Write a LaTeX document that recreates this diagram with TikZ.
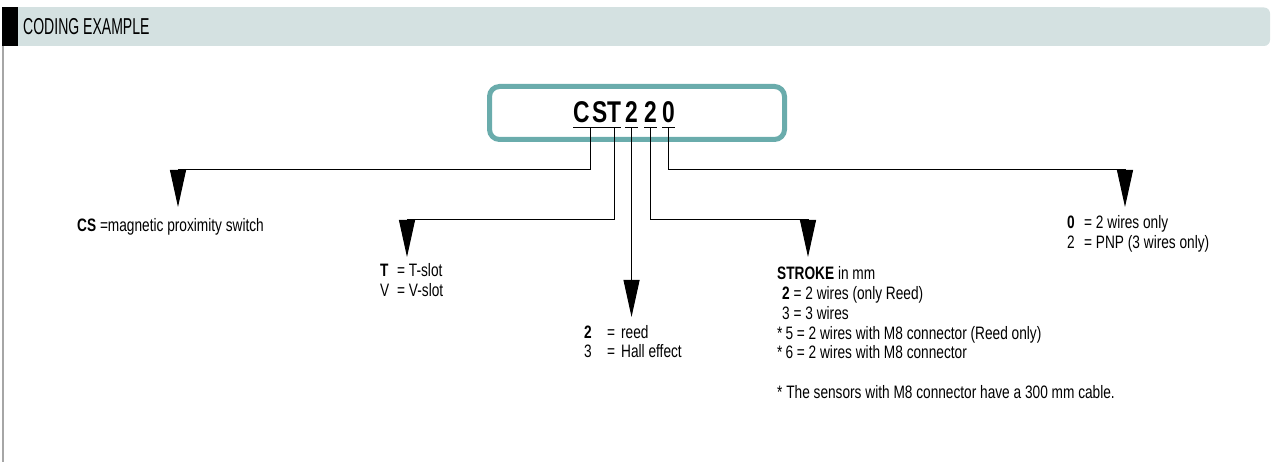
\documentclass[tikz,border=0pt]{standalone}
\usepackage{fontspec}
\setmainfont{Liberation Sans}[FakeStretch=0.76]
\newfontfamily\headfont{Liberation Sans}[FakeStretch=0.61]
\newfontfamily\codefont{Liberation Sans}[FakeStretch=0.76]
\usetikzlibrary{arrows.meta}
\definecolor{headbg}{HTML}{D4E1E1}
\definecolor{boxteal}{HTML}{6AACAC}
\newcommand{\codelist}[1]{\begin{tabular}[t]{@{}l@{}}#1\end{tabular}}
\tikzset{
  conn/.style={line width=1pt,-{Triangle[length=37pt,width=16pt]}},
  txt/.style={anchor=base west,inner sep=0pt,font=\fontsize{18}{19.7}\selectfont},
  letter/.style={anchor=base west,inner sep=0pt,font=\codefont\bfseries\fontsize{30}{31}\selectfont},
}
\begin{document}
\begin{tikzpicture}[x=1pt,y=-1pt,line cap=butt,line join=miter]
  \useasboundingbox (0,0) rectangle (1272,462);

  % Header strip
  \fill[headbg,rounded corners=6pt] (1000,7.5) rectangle (1270,46);
  \fill[headbg] (2,7.5) rectangle (1100,46);
  \fill[black] (2,7.5) rectangle (18,46);
  \node[anchor=base west,inner sep=0pt,font=\headfont\fontsize{23}{25}\selectfont] (title) at (23,35) {CODING EXAMPLE};
  \draw[gray!70,line width=2pt] (3,46) -- (3,462);

  % Code box
  \draw[boxteal,line width=5pt,rounded corners=10pt] (489.5,86.5) rectangle (784.5,139.5);
  \node[letter] (cs)  at (573,123) {C\hspace{2.5pt}S};
  \node[letter] (ct)  at (607,123) {T};
  \node[letter] (c2a) at (625,123) {2};
  \node[letter] (c2b) at (644,123) {2};
  \node[letter] (c0)  at (662,123) {0};
  \foreach \n in {cs,ct,c2a,c2b,c0}
    \draw[line width=1pt] ([yshift=-5pt]\n.base west) -- ([yshift=-5pt]\n.base east);

  % Levels and arrow tips
  \coordinate (hiA) at (0,170);
  \coordinate (loA) at (0,220);
  \coordinate (tipCS) at (178,207);
  \coordinate (tipT) at (407,257);
  \coordinate (tipR) at (632,317);
  \coordinate (tipS) at (808,257);
  \coordinate (tipW) at (1125,207);

  \draw[conn] ([yshift=-5pt]cs.base) |- (hiA -| tipCS) -- (tipCS);
  \draw[conn] ([yshift=-5pt]ct.base) |- (loA -| tipT) -- (tipT);
  \draw[conn] ([yshift=-5pt]c2a.base) -- (c2a.base |- tipR);
  \draw[conn] ([yshift=-5pt]c2b.base) |- (loA -| tipS) -- (tipS);
  \draw[conn] ([yshift=-5pt]c0.base) |- (hiA -| tipW) -- (tipW);

  % Legends
  \node[txt] (lcs) at (77,232) {\textbf{CS} =magnetic proximity switch};
  \node[txt] (lt) at (380,277) {\codelist{%
    \makebox[17pt][l]{\textbf{T}}= T-slot\\
    \makebox[17pt][l]{V}= V-slot}};
  \node[txt] (lr) at (584,338) {\codelist{%
    \makebox[23pt][l]{\textbf{2}}=\hspace{6pt}reed\\
    \makebox[23pt][l]{3}=\hspace{6pt}Hall effect}};
  \node[txt] (ls) at (777,280) {\codelist{%
    \textbf{STROKE} in mm\\
    \hspace*{5pt}\textbf{2} = 2 wires (only Reed)\\
    \hspace*{5pt}3 = 3 wires\\
    {*}\,5 = 2 wires with M8 connector (Reed only)\\
    {*}\,6 = 2 wires with M8 connector\\
    \\
    {*} The sensors with M8 connector have a 300 mm cable.}};
  \node[txt] (lw) at (1067,229) {\codelist{%
    \makebox[17pt][l]{\textbf{0}}= 2 wires only\\
    \makebox[17pt][l]{2}= PNP (3 wires only)}};
\end{tikzpicture}
\end{document}
